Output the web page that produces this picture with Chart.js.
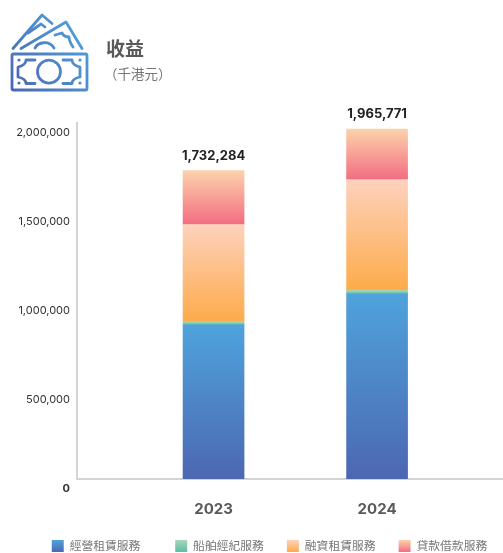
<!DOCTYPE html>
<html>
<head>
<meta charset="utf-8">
<script src="https://cdn.jsdelivr.net/npm/chart.js@4"></script>
<style>
    body { margin: 0; background: #fff; }
    #wrap { position: relative; width: 503px; height: 553px; overflow: hidden; }
    #title { position: absolute; left: 106px; top: 35px; font: bold 19px "Noto Sans CJK TC"; color: #595959; line-height: 26px; }
    #unit { position: absolute; left: 104px; top: 63px; font: 13.5px "Noto Sans CJK TC"; color: #777; line-height: 20px; }
    #icon { position: absolute; left: 0; top: 0; }
</style>
</head>
<body>
<div id="wrap">
    <canvas id="revenue-canvas" width="503" height="553"></canvas>
    <svg id="icon" width="100" height="100" viewBox="0 0 100 100" fill="none">
        <defs>
            <linearGradient id="icon-grad" gradientUnits="userSpaceOnUse" x1="12" y1="90" x2="88" y2="30">
                <stop offset="0" stop-color="#4c67b1"/>
                <stop offset="1" stop-color="#4fa3dc"/>
            </linearGradient>
        </defs>
        <g stroke="url(#icon-grad)" stroke-width="2.8" stroke-linecap="round" stroke-linejoin="round">
            <rect x="12" y="54" width="75" height="36" rx="1.5"/>
            <circle cx="49" cy="71.7" r="11.5"/>
            <path d="M35 60H26C26 63 23 66 18 67V77C23 78 26 80 26 83.5H35"/>
            <path d="M63 60H72C72 63 75 66 80 67V77C75 78 72 80 72 83.5H63"/>
            <path d="M13 48.5L42 15L52 23.5"/>
            <path d="M21 48.5L66 22L82 48.5"/>
            <path d="M28 33L41 24L45 27"/>
            <path d="M55 35L62 33C64 37 67 37 69 37C69 41 71 44 73 47"/>
            <path d="M35 48C38 42 49 40 54 48"/>
        </g>
        <g fill="url(#icon-grad)">
            <circle cx="19" cy="60" r="1.6"/><circle cx="80" cy="60" r="1.6"/>
            <circle cx="19" cy="83" r="1.6"/><circle cx="80" cy="83" r="1.6"/>
        </g>
    </svg>
    <div id="title">收益</div>
    <div id="unit">（千港元）</div>
</div>
<script>
const categories = [2023, 2024];
const seriesNames = ['經營租賃服務', '船舶經紀服務', '融資租賃服務', '貸款借款服務'];
const operatingLease = [866000, 1040000];
const shipBroking = [18000, 20000];
const financeLease = [546000, 622000];
const loans = [302284, 283771];
const totals = ['1,732,284', '1,965,771'];
const yTicks = [0, 500000, 1000000, 1500000, 2000000];
const yTickLabels = ['0', '500,000', '1,000,000', '1,500,000', '2,000,000'];

const seriesValues = [operatingLease, shipBroking, financeLease, loans];
// top colour, bottom colour of each stack segment
const segmentColors = [
    ['#4fa3dc', '#4c67b1'],
    ['#a9d6ba', '#5cbfa5'],
    ['#fdd2bd', '#fdab4a'],
    ['#fdd2ac', '#f26d80']
];
const legendColors = [
    ['#4c67b1', '#4fa3dc'],
    ['#5cbfa5', '#a9d6ba'],
    ['#fdab4a', '#fdd2bd'],
    ['#f26d80', '#fdd2ac']
];

function segmentFill(context) {
    const chart = context.chart;
    const colors = segmentColors[context.datasetIndex];
    if (!chart.chartArea || context.dataIndex === undefined) {
        return colors[1];
    }
    let base = 0;
    for (let i = 0; i < context.datasetIndex; i++) {
        base += seriesValues[i][context.dataIndex];
    }
    const top = base + seriesValues[context.datasetIndex][context.dataIndex];
    const y = chart.scales.y;
    const gradient = chart.ctx.createLinearGradient(0, y.getPixelForValue(top), 0, y.getPixelForValue(base));
    gradient.addColorStop(0, colors[0]);
    gradient.addColorStop(1, colors[1]);
    return gradient;
}

// totals above each stack
const totalLabels = {
    id: 'totalLabels',
    afterDatasetsDraw(chart) {
        const ctx = chart.ctx;
        ctx.save();
        ctx.font = 'bold 13px Inter';
        ctx.fillStyle = '#222';
        ctx.textAlign = 'center';
        ctx.textBaseline = 'middle';
        categories.forEach((year, i) => {
            let sum = 0;
            seriesValues.forEach(s => { sum += s[i]; });
            ctx.fillText(totals[i], chart.scales.x.getPixelForValue(year), chart.scales.y.getPixelForValue(sum) - 15);
        });
        ctx.restore();
    }
};

// the legend sits right of the page centre in the source
const legendShift = {
    id: 'legendShift',
    afterLayout(chart) {
        chart.legend.left += 18;
        chart.legend.right += 18;
    }
};

new Chart(document.getElementById('revenue-canvas').getContext('2d'), {
    type: 'bar',
    data: {
        datasets: seriesNames.map((name, s) => ({
            label: name,
            data: categories.map((year, i) => ({ x: year, y: seriesValues[s][i] })),
            backgroundColor: segmentFill,
            barThickness: 61,
            borderWidth: 0
        }))
    },
    options: {
        responsive: false,
        animation: false,
        layout: { padding: { left: 0, top: 123, right: 0, bottom: -9 } },
        scales: {
            x: {
                type: 'linear',
                stacked: true,
                offset: false,
                min: 2022.165,
                max: 2024.77,
                afterBuildTicks(scale) { scale.ticks = categories.map(v => ({ value: v })); },
                afterFit(scale) { scale.height = 38; },
                grid: { display: false, drawTicks: false, offset: false },
                border: { color: '#d4d4d4', width: 2 },
                ticks: {
                    padding: 21,
                    maxRotation: 0,
                    color: '#595959',
                    font: { family: 'Inter', size: 15, weight: 'bold' },
                    callback: v => String(v)
                }
            },
            y: {
                stacked: true,
                min: 0,
                max: 2000000,
                afterBuildTicks(scale) { scale.ticks = yTicks.map(v => ({ value: v })); },
                afterFit(scale) { scale.width = 77; },
                grid: { display: false, drawTicks: false },
                border: { color: '#d4d4d4', width: 2 },
                ticks: {
                    padding: 7,
                    color: '#333',
                    font: c => ({
                        family: 'Inter',
                        size: 11,
                        weight: c.tick && c.tick.value === 0 ? 'bold' : 'normal',
                        lineHeight: '19px'
                    }),
                    // empty first line pushes the label below its tick, as in the source
                    callback: v => ['', yTickLabels[yTicks.indexOf(v)]]
                }
            }
        },
        plugins: {
            tooltip: { enabled: false },
            legend: {
                position: 'bottom',
                labels: {
                    boxWidth: 12,
                    boxHeight: 12,
                    padding: 23,
                    color: '#777',
                    font: { family: '"Noto Sans CJK TC"', size: 11.8 },
                    generateLabels(chart) {
                        return seriesNames.map((name, s) => {
                            const g = chart.ctx.createLinearGradient(0, 552, 0, 540);
                            g.addColorStop(0, legendColors[s][0]);
                            g.addColorStop(1, legendColors[s][1]);
                            return {
                                // wider gap after the first item in the source
                                text: s === 0 ? name + '\u3000' : name,
                                fillStyle: g,
                                strokeStyle: 'transparent',
                                lineWidth: 0,
                                fontColor: '#777',
                                datasetIndex: s
                            };
                        });
                    }
                }
            }
        }
    },
    plugins: [totalLabels, legendShift]
});
</script>
</body>
</html>
